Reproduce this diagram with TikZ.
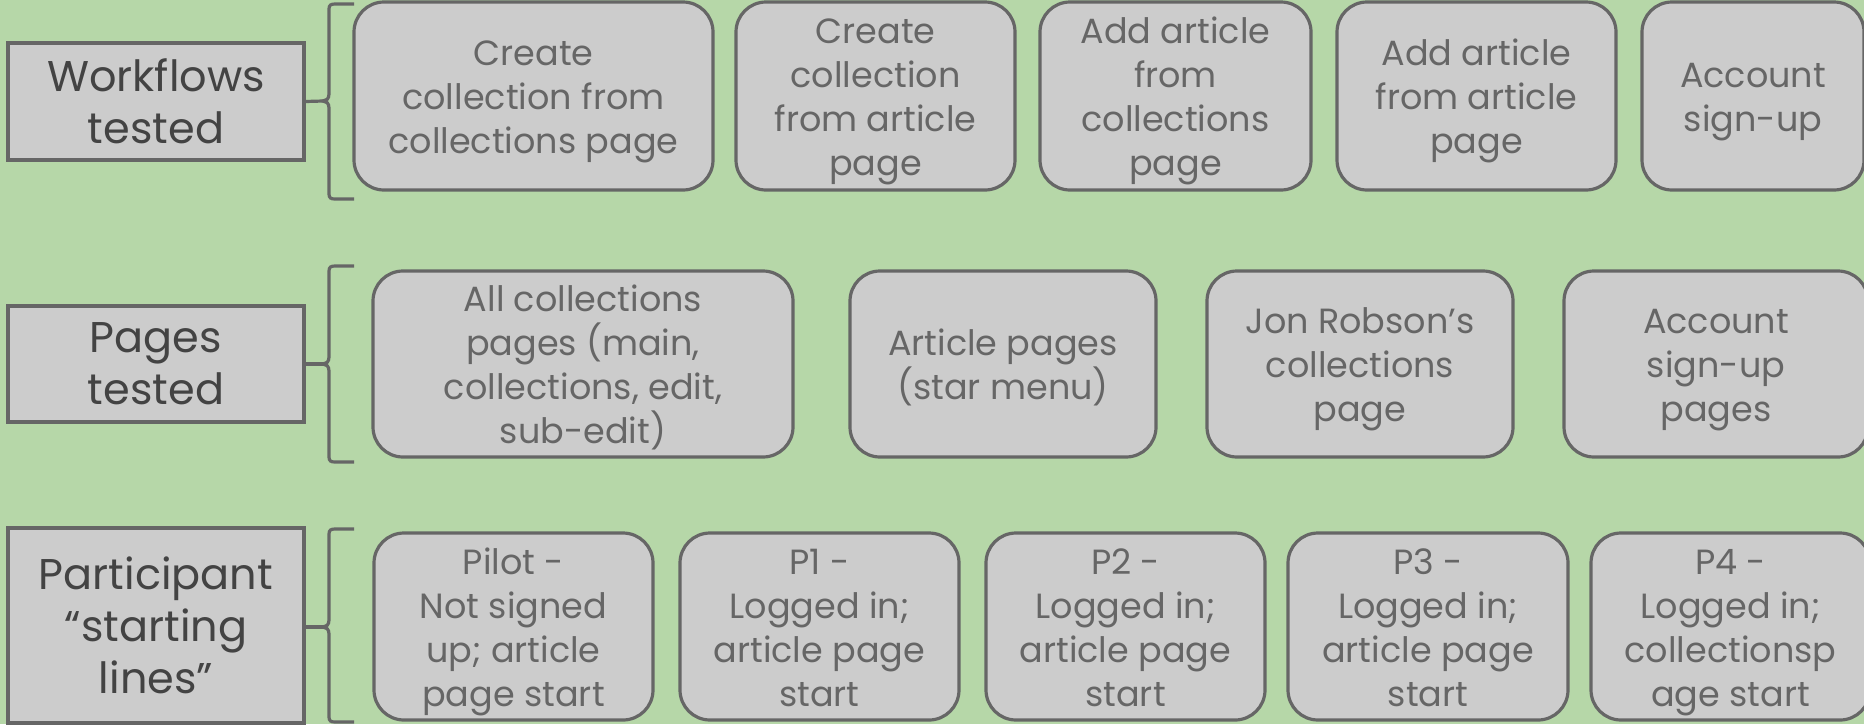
\documentclass[tikz,border=0pt]{standalone}
\usepackage{fontspec}
\setmainfont{Poppins}
\definecolor{bg}{HTML}{B6D7A8}
\definecolor{boxfill}{HTML}{CCCCCC}
\definecolor{boxline}{HTML}{666666}
\definecolor{labeltext}{HTML}{434343}
\definecolor{itemtext}{HTML}{666666}
\tikzset{
  labelbox/.style={draw=boxline, fill=boxfill, line width=1.6pt, text=labeltext,
    align=center, inner sep=2pt, font=\fontsize{21.5}{26}\selectfont},
  itembox/.style={draw=boxline, fill=boxfill, line width=1.6pt, rounded corners=15pt, inner sep=0pt},
  itemlabel/.style={text=itemtext, align=center, inner sep=0pt, font=\fontsize{17.5}{22}\selectfont},
  bracketline/.style={draw=boxline, line width=1.6pt},
}
\newcommand\itemtopstrut{\rule{0pt}{16pt}}
\newcommand\itembotstrut{\rule[-5.6pt]{0pt}{5.6pt}}
% name, x, y, width, height, text
\newcommand\itemnode[6]{%
  \node[itembox, minimum width=#4, minimum height=#5] (#1) at (#2,#3) {};
  \node[itemlabel] (#1t) at ([yshift=-1.6pt]#1.center) {\itemtopstrut#6\itembotstrut};}
\begin{document}
\begin{tikzpicture}[x=0.5pt,y=-0.5pt]
\useasboundingbox[fill=bg] (0,0) rectangle (1864,724);
% label boxes
\node[labelbox, minimum width=148pt, minimum height=58.5pt] (L1) at (156,101.5) {Workflows\\tested};
\node[labelbox, minimum width=148pt, minimum height=58pt] (L2) at (156,364) {Pages\\tested};
\node[labelbox, minimum width=148pt, minimum height=97.5pt] (L3) at (156,625.5) {Participant\\“starting\\lines”};
% brackets
\coordinate (T1) at (323,101);
\coordinate (T2) at (323,364);
\coordinate (T3) at (323,627);
\draw[bracketline] (354,4) -- (335,4) .. controls (331,4) and (329,5) .. (329,9) -- (329,94)
  .. controls (329,99) and (326,101) .. (T1) .. controls (326,101) and (329,103) .. (329,108)
  -- (329,194) .. controls (329,198) and (331,199) .. (335,199) -- (354,199);
\draw[bracketline] (354,266) -- (335,266) .. controls (331,266) and (329,267) .. (329,271) -- (329,357)
  .. controls (329,362) and (326,364) .. (T2) .. controls (326,364) and (329,366) .. (329,371)
  -- (329,457) .. controls (329,461) and (331,462) .. (335,462) -- (354,462);
\draw[bracketline] (354,529) -- (335,529) .. controls (331,529) and (329,530) .. (329,534) -- (329,620)
  .. controls (329,625) and (326,627) .. (T3) .. controls (326,627) and (329,629) .. (329,634)
  -- (329,717) .. controls (329,721) and (331,722) .. (335,722) -- (354,722);
\draw[bracketline] (L1.east) -- (T1);
\draw[bracketline] (L2.east) -- (T2);
\draw[bracketline] (L3.east |- T3) -- (T3);
% row 1
\itemnode{A1}{533.5}{96}{179.5pt}{94pt}{Create\\collection from\\collections page}
\itemnode{A2}{875.5}{96}{139.5pt}{94pt}{Create\\collection\\from article\\page}
\itemnode{A3}{1175.5}{96}{135.5pt}{94pt}{Add article\\from\\collections\\page}
\itemnode{A4}{1476.5}{96}{139.5pt}{94pt}{Add article\\from article\\page}
\itemnode{A5}{1753}{96}{111pt}{94pt}{Account\\sign-up}
% row 2
\itemnode{B1}{583}{364}{210pt}{93pt}{All collections\\pages (main,\\collections, edit,\\sub-edit)}
\itemnode{B2}{1003}{364}{153pt}{93pt}{Article pages\\(star menu)}
\itemnode{B3}{1360}{364}{153pt}{93pt}{Jon Robson’s\\collections\\page}
\itemnode{B4}{1716}{364}{152pt}{93pt}{Account\\sign-up\\pages}
% row 3
\itemnode{C1}{513.5}{626.5}{139.5pt}{93.5pt}{Pilot -\\Not signed\\up; article\\page start}
\itemnode{C2}{819.5}{626.5}{139.5pt}{93.5pt}{P1 -\\Logged in;\\article page\\start}
\itemnode{C3}{1125.5}{626.5}{139.5pt}{93.5pt}{P2 -\\Logged in;\\article page\\start}
\itemnode{C4}{1428}{626.5}{140pt}{93.5pt}{P3 -\\Logged in;\\article page\\start}
\itemnode{C5}{1730.5}{626.5}{139.5pt}{93.5pt}{P4 -\\Logged in;\\collectionsp\\age start}
\end{tikzpicture}
\end{document}
